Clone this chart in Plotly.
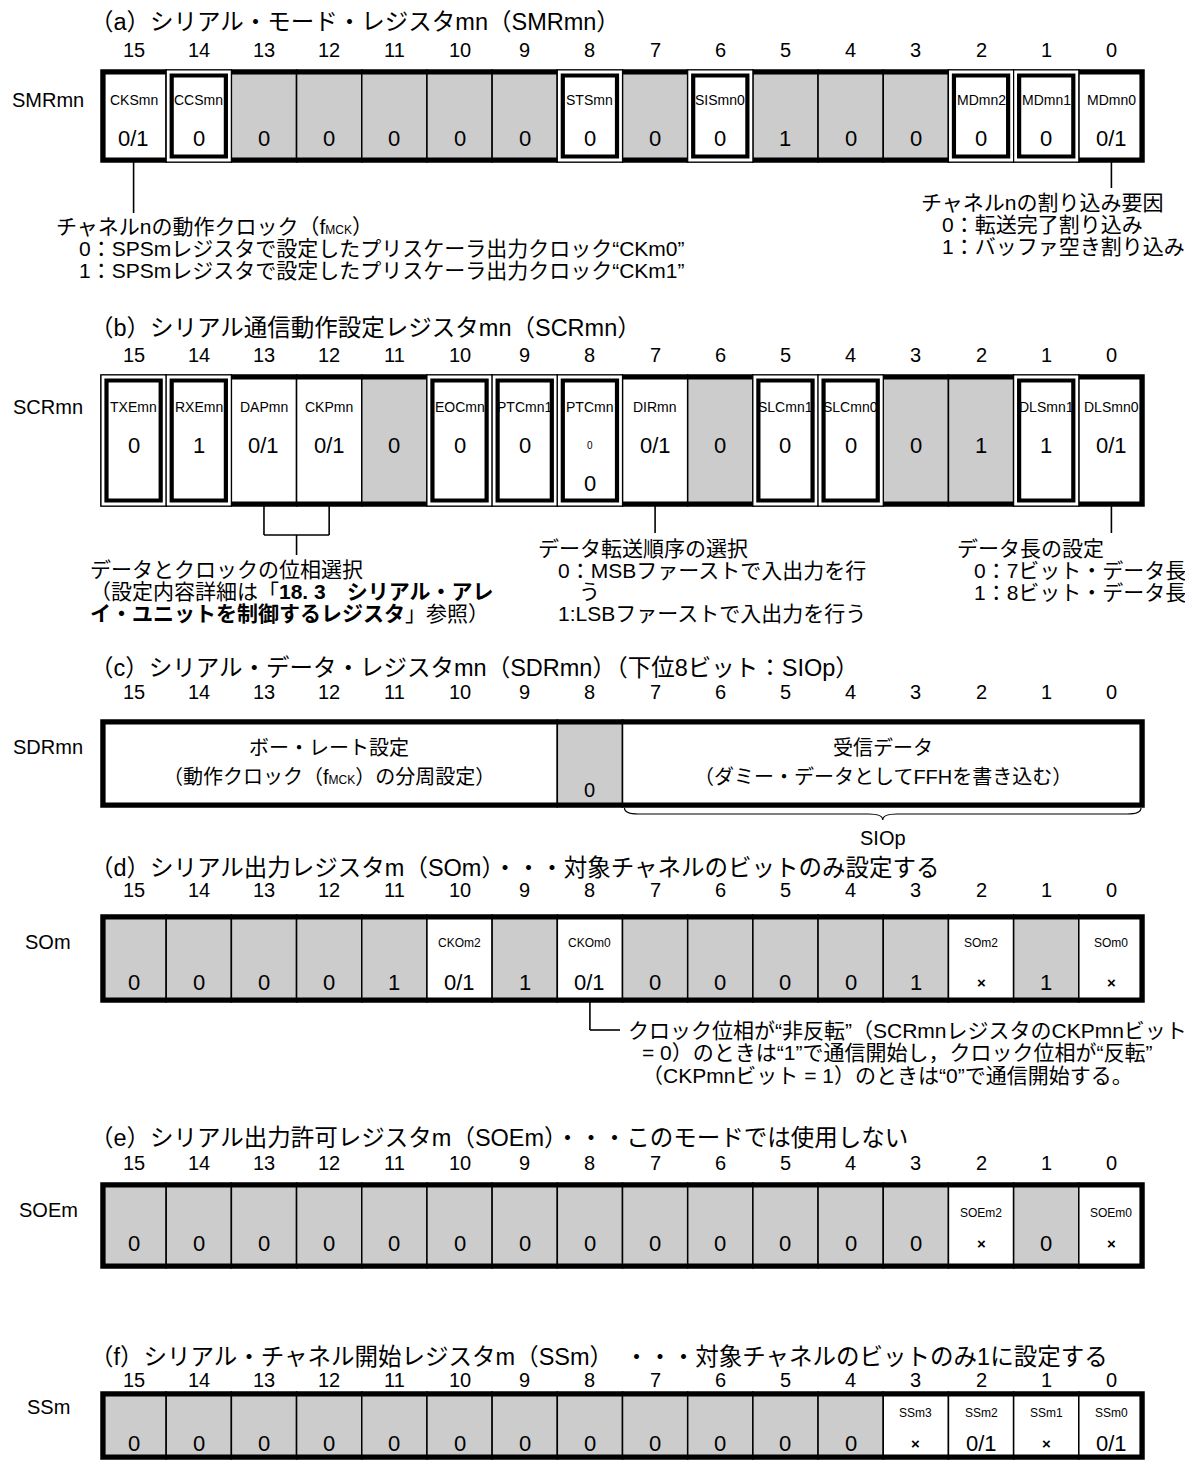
import plotly.graph_objects as go

FIG_W, FIG_H = 1193, 1463
PAGE_OFFSET = 8  # default body margin of the html page

# ---------------- data ----------------
BIT_LABELS = [str(b) for b in range(15, -1, -1)]

SMR_NAMES = ["CKSmn", "CCSmn", "", "", "", "", "", "STSmn", "", "SISmn0", "", "", "", "MDmn2", "MDmn1", "MDmn0"]
SMR_VALUES = ["0/1", "0", "0", "0", "0", "0", "0", "0", "0", "0", "1", "0", "0", "0", "0", "0/1"]
SMR_BOLD = [0, 1, 0, 0, 0, 0, 0, 1, 0, 1, 0, 0, 0, 1, 1, 0]

SCR_NAMES = ["TXEmn", "RXEmn", "DAPmn", "CKPmn", "", "EOCmn", "PTCmn1", "PTCmn", "DIRmn", "", "SLCmn1", "SLCmn0", "", "", "DLSmn1", "DLSmn0"]
SCR_NAME_TAIL = ["", "", "", "", "", "", "", "0", "", "", "", "", "", "", "", ""]
SCR_VALUES = ["0", "1", "0/1", "0/1", "0", "0", "0", "0", "0/1", "0", "0", "0", "0", "1", "1", "0/1"]
SCR_BOLD = [1, 1, 0, 0, 0, 1, 1, 1, 0, 0, 1, 1, 0, 0, 1, 0]

SDR_FIELD_BITS = [(15, 9), (8, 8), (7, 0)]
SDR_FIELD_TEXT = ["ボー・レート設定", "", "受信データ"]
SDR_FIELD_SUB = ["（動作クロック（f<span style='font-size:12px'>MCK</span>）の分周設定）", "", "（ダミー・データとしてFFHを書き込む）"]
SDR_FIELD_VALUE = ["", "0", ""]
SDR_BRACE_LABEL = "SIOp"

SO_NAMES = ["", "", "", "", "", "CKOm2", "", "CKOm0", "", "", "", "", "", "SOm2", "", "SOm0"]
SO_VALUES = ["0", "0", "0", "0", "1", "0/1", "1", "0/1", "0", "0", "0", "0", "1", "×", "1", "×"]

SOE_NAMES = ["", "", "", "", "", "", "", "", "", "", "", "", "", "SOEm2", "", "SOEm0"]
SOE_VALUES = ["0", "0", "0", "0", "0", "0", "0", "0", "0", "0", "0", "0", "0", "×", "0", "×"]

SS_NAMES = ["", "", "", "", "", "", "", "", "", "", "", "", "SSm3", "SSm2", "SSm1", "SSm0"]
SS_VALUES = ["0", "0", "0", "0", "0", "0", "0", "0", "0", "0", "0", "0", "×", "0/1", "×", "0/1"]

TITLES = [
    "（a）シリアル・モード・レジスタmn（SMRmn）",
    "（b）シリアル通信動作設定レジスタmn（SCRmn）",
    "（c）シリアル・データ・レジスタmn（SDRmn）（下位8ビット：SIOp）",
    "（d）シリアル出力レジスタm（SOm）・・・対象チャネルのビットのみ設定する",
    "（e）シリアル出力許可レジスタm（SOEm）・・・このモードでは使用しない",
    "（f）シリアル・チャネル開始レジスタm（SSm）　・・・対象チャネルのビットのみ1に設定する",
]
REG_LABELS = ["SMRmn", "SCRmn", "SDRmn", "SOm", "SOEm", "SSm"]

NOTE_A_LEFT = [
    "チャネルnの動作クロック（f<span style='font-size:12px'>MCK</span>）",
    "0：SPSmレジスタで設定したプリスケーラ出力クロック“CKm0”",
    "1：SPSmレジスタで設定したプリスケーラ出力クロック“CKm1”",
]
NOTE_A_RIGHT = ["チャネルnの割り込み要因", "0：転送完了割り込み", "1：バッファ空き割り込み"]
NOTE_B_LEFT = [
    "データとクロックの位相選択",
    "（設定内容詳細は「<b>18. 3　シリアル・アレ</b>",
    "<b>イ・ユニットを制御するレジスタ</b>」参照）",
]
NOTE_B_MID = ["データ転送順序の選択", "0：MSBファーストで入出力を行", "う", "1:LSBファーストで入出力を行う"]
NOTE_B_RIGHT = ["データ長の設定", "0：7ビット・データ長", "1：8ビット・データ長"]
NOTE_D = [
    "クロック位相が“非反転”（SCRmnレジスタのCKPmnビット",
    "= 0）のときは“1”で通信開始し，クロック位相が“反転”",
    "（CKPmnビット = 1）のときは“0”で通信開始する。",
]

# ---------------- style / layout ----------------
FONT = "Liberation Sans, Arial, Noto Sans CJK JP, sans-serif"
GRAY = "#cccccc"
NOTE_SIZE = 21
TITLE_SIZE = 23.5
L, R = 101.0, 1144.0
CW = (R - L) / 16

shapes = []
annots = []


def x0(i):
    return L + i * CW


def xc(i):
    return L + (i + 0.5) * CW


def text(x, y, s, size, anchor="center", color="black"):
    annots.append(dict(x=x, y=y, xref="x", yref="y", text=s, showarrow=False,
                       xanchor=anchor, yanchor="middle",
                       font=dict(family=FONT, size=size, color=color)))


def rect(xa, ya, xb, yb, lw, fill=None, color="black"):
    d = dict(type="rect", xref="x", yref="y", x0=xa, y0=ya, x1=xb, y1=yb,
             line=dict(color=color, width=lw), layer="above")
    d["fillcolor"] = fill if fill else "rgba(0,0,0,0)"
    shapes.append(d)


def line(xa, ya, xb, yb, lw=1.6):
    shapes.append(dict(type="line", xref="x", yref="y", x0=xa, y0=ya, x1=xb, y1=yb,
                       line=dict(color="black", width=lw), layer="above"))


def header(k, title_y, bits_y, label_y):
    text(88, title_y, TITLES[k], TITLE_SIZE, anchor="left")
    for i, b in enumerate(BIT_LABELS):
        text(xc(i), bits_y, b, 20)
    text(48, label_y, REG_LABELS[k], 20)


def register(names, values, bold, top, bot, name_y, val_y, name_size, val_size, tails=None, val2_y=None):
    for i in range(16):
        rect(x0(i), top, x0(i + 1), bot, 1.5, fill=GRAY if names[i] == "" else "white")
    rect(L + 2.3, top + 2.3, R - 2.3, bot - 2.3, 4.6)
    for i in range(16):
        if bold[i]:
            rect(x0(i), top, x0(i + 1), bot, 1.2, fill="white")
            rect(x0(i) + 5.5, top + 5.5, x0(i + 1) - 5.5, bot - 5.5, 4.2)
    for i in range(16):
        if names[i]:
            text(xc(i), name_y, names[i], name_size)
        v = values[i]
        vy = val_y
        if tails is not None and tails[i]:
            text(xc(i), val_y, tails[i], 10)
            vy = val2_y
        if v == "×":
            text(xc(i), vy, "<b>×</b>", 15)
        else:
            text(xc(i), vy, v, val_size)


# (a) SMRmn
header(0, 22, 50, 100)
register(SMR_NAMES, SMR_VALUES, SMR_BOLD, 70, 162, 100, 138, 14, 22)
line(xc(0), 162, xc(0), 213)
text(54, 226, NOTE_A_LEFT[0], NOTE_SIZE, anchor="left")
text(77, 248, NOTE_A_LEFT[1], NOTE_SIZE, anchor="left")
text(77, 270, NOTE_A_LEFT[2], NOTE_SIZE, anchor="left")
line(xc(15), 162, xc(15), 188)
text(919, 202, NOTE_A_RIGHT[0], NOTE_SIZE, anchor="left")
text(940, 224, NOTE_A_RIGHT[1], NOTE_SIZE, anchor="left")
text(940, 246, NOTE_A_RIGHT[2], NOTE_SIZE, anchor="left")

# (b) SCRmn
header(1, 328, 355, 407)
register(SCR_NAMES, SCR_VALUES, SCR_BOLD, 375, 506, 407, 445, 14, 22, tails=SCR_NAME_TAIL, val2_y=483)
line(xc(2), 506, xc(2), 535)
line(xc(3), 506, xc(3), 535)
line(xc(2), 535, xc(3), 535)
line((xc(2) + xc(3)) / 2, 535, (xc(2) + xc(3)) / 2, 555)
text(88, 569, NOTE_B_LEFT[0], NOTE_SIZE, anchor="left")
text(88, 591, NOTE_B_LEFT[1], NOTE_SIZE, anchor="left")
text(88, 613, NOTE_B_LEFT[2], NOTE_SIZE, anchor="left")
line(xc(8), 506, xc(8), 533)
text(536, 548, NOTE_B_MID[0], NOTE_SIZE, anchor="left")
text(556, 570, NOTE_B_MID[1], NOTE_SIZE, anchor="left")
text(577, 591, NOTE_B_MID[2], NOTE_SIZE, anchor="left")
text(556, 613, NOTE_B_MID[3], NOTE_SIZE, anchor="left")
line(xc(15), 506, xc(15), 533)
text(955, 548, NOTE_B_RIGHT[0], NOTE_SIZE, anchor="left")
text(972, 570, NOTE_B_RIGHT[1], NOTE_SIZE, anchor="left")
text(972, 592, NOTE_B_RIGHT[2], NOTE_SIZE, anchor="left")

# (c) SDRmn
header(2, 668, 692, 747)
c_top, c_bot = 720, 807
for (hi, lo), t, sub, val in zip(SDR_FIELD_BITS, SDR_FIELD_TEXT, SDR_FIELD_SUB, SDR_FIELD_VALUE):
    i0, i1 = 15 - hi, 15 - lo + 1
    rect(x0(i0), c_top, x0(i1), c_bot, 1.5, fill="white" if t else GRAY)
    mx = (x0(i0) + x0(i1)) / 2
    if t:
        text(mx, 748, t, 20)
        text(mx, 777, sub, 20)
    if val:
        text(mx, 790, val, 20)
rect(L + 2.3, c_top + 2.3, R - 2.3, c_bot - 2.3, 4.6)
bx0, bx1 = x0(8) + 2, R - 3
bmid = (bx0 + bx1) / 2
by = c_bot + 1
shapes.append(dict(
    type="path", xref="x", yref="y", layer="above",
    path=(f"M {bx0},{by} Q {bx0},{by+6} {bx0+14},{by+6} L {bmid-14},{by+6} "
          f"Q {bmid},{by+6} {bmid},{by+12} Q {bmid},{by+6} {bmid+14},{by+6} "
          f"L {bx1-14},{by+6} Q {bx1},{by+6} {bx1},{by}"),
    line=dict(color="black", width=1.2)))
text(bmid, 838, SDR_BRACE_LABEL, 20)

# (d) SOm
header(3, 868, 890, 942)
register(SO_NAMES, SO_VALUES, [0] * 16, 915, 1002, 943, 982, 12, 22)
line(xc(7), 1002, xc(7), 1030)
line(xc(7), 1030, 620, 1030)
text(626, 1030, NOTE_D[0], NOTE_SIZE, anchor="left")
text(640, 1052, NOTE_D[1], NOTE_SIZE, anchor="left")
text(640, 1075, NOTE_D[2], NOTE_SIZE, anchor="left")

# (e) SOEm
header(4, 1138, 1163, 1210)
register(SOE_NAMES, SOE_VALUES, [0] * 16, 1183, 1268, 1213, 1243, 12, 22)

# (f) SSm
header(5, 1357, 1380, 1407)
register(SS_NAMES, SS_VALUES, [0] * 16, 1392, 1459, 1413, 1443, 12, 22)

fig = go.Figure()
fig.add_trace(go.Scatter(x=[xc(i) for i in range(16)], y=[PAGE_OFFSET + 2] * 16, mode="markers",
                         marker=dict(size=1, color="rgba(0,0,0,0)"), hoverinfo="skip", showlegend=False))
fig.update_layout(
    width=FIG_W - PAGE_OFFSET, height=FIG_H - PAGE_OFFSET, margin=dict(l=0, r=0, t=0, b=0),
    paper_bgcolor="white", plot_bgcolor="white",
    xaxis=dict(range=[PAGE_OFFSET, FIG_W], visible=False, fixedrange=True),
    yaxis=dict(range=[FIG_H, PAGE_OFFSET], visible=False, fixedrange=True),
    shapes=shapes, annotations=annots, showlegend=False,
)
fig.write_html("out.html")
